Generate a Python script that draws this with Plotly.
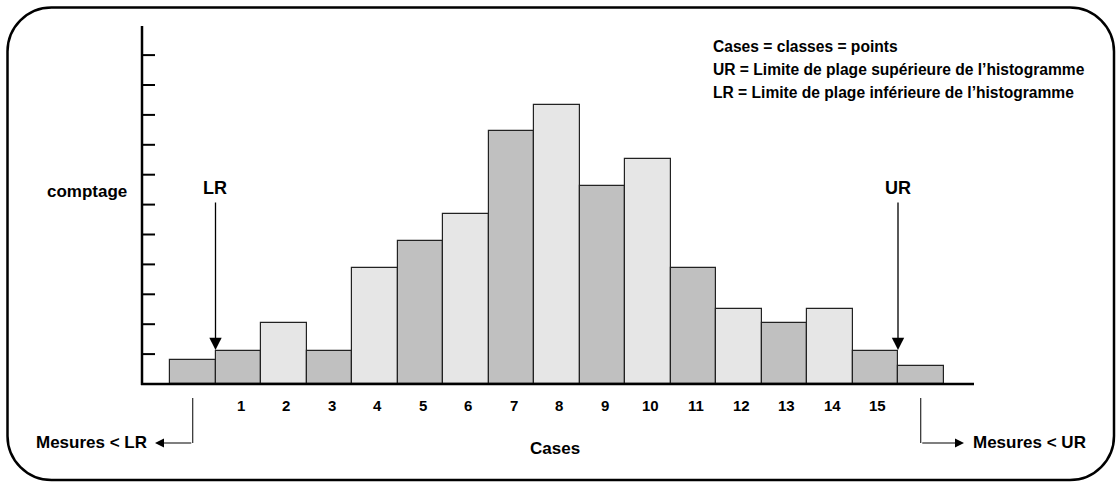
import plotly.graph_objects as go

# ---- data (counts in tick units) ----
bins = list(range(17))                      # 0 = below LR, 1..15 labelled, 16 = above UR
counts = [0.8, 1.12, 2.04, 1.12, 3.88, 4.78, 5.7, 8.45, 9.33, 6.61, 7.53, 3.87, 2.5, 2.04, 2.5, 1.12, 0.59]
shade = ["d", "d", "l", "d", "l", "d", "l", "d", "l", "d", "l", "d", "l", "d", "l", "d", "d"]
tick_labels = [str(i) for i in range(1, 16)]
legend_lines = ["Cases = classes = points",
                "UR = Limite de plage supérieure de l’histogramme",
                "LR = Limite de plage inférieure de l’histogramme"]

W, H = 1118, 483
X0, XS = 192.75, 45.5     # pixel of bin 0 centre, pixels per bin
Y0, YS = 384.0, 29.9      # pixel of baseline, pixels per count unit


def px(x):
    return (x - X0) / XS


def py(y):
    return (Y0 - y) / YS


FONT = "Liberation Sans, Arial, sans-serif"
colors = ["#C0C0C0" if s == "d" else "#E6E6E6" for s in shade]

fig = go.Figure()
fig.add_trace(go.Bar(x=bins, y=counts, width=1,
                     marker=dict(color=colors, line=dict(color="#222222", width=1.2)),
                     hoverinfo="skip"))

shapes = []
# y axis line
shapes.append(dict(type="line", xref="x", yref="y", x0=px(142), x1=px(142), y0=py(385), y1=py(26),
                   line=dict(color="black", width=2.5)))
# ticks
for k in range(1, 12):
    shapes.append(dict(type="line", xref="x", yref="y", x0=px(142), x1=px(155), y0=k, y1=k,
                       line=dict(color="black", width=2)))
# baseline
shapes.append(dict(type="line", xref="x", yref="y", x0=px(141), x1=px(974), y0=0, y1=0,
                   line=dict(color="black", width=2.5)))
# "Mesures" vertical connectors
shapes.append(dict(type="line", xref="x", yref="y", x0=0, x1=0, y0=py(398), y1=py(443),
                   line=dict(color="black", width=1)))
shapes.append(dict(type="line", xref="x", yref="y", x0=16, x1=16, y0=py(398), y1=py(443),
                   line=dict(color="black", width=1)))

# rounded border
L, R, T, B, r = 7.5, 1114, 7.5, 480, 44
k = 0.5523 * r


def P(x, y):
    return f"{px(x):.4f},{py(y):.4f}"


path = (f"M {P(L + r, T)} L {P(R - r, T)} C {P(R - r + k, T)} {P(R, T + r - k)} {P(R, T + r)} "
        f"L {P(R, B - r)} C {P(R, B - r + k)} {P(R - r + k, B)} {P(R - r, B)} "
        f"L {P(L + r, B)} C {P(L + r - k, B)} {P(L, B - r + k)} {P(L, B - r)} "
        f"L {P(L, T + r)} C {P(L, T + r - k)} {P(L + r - k, T)} {P(L + r, T)} Z")
shapes.append(dict(type="path", xref="x", yref="y", path=path, line=dict(color="black", width=2.5)))

ann = []


def text(x, y, s, size, xanchor="center"):
    ann.append(dict(x=x, y=y, xref="x", yref="y", text=f"<b>{s}</b>", showarrow=False,
                    xanchor=xanchor, yanchor="middle", font=dict(family=FONT, size=size, color="black")))


for i, lab in enumerate(tick_labels, start=1):
    text(i + 0.05, py(405), lab, 15)

text(px(87), py(191), "comptage", 17)
text(px(555), py(448), "Cases", 17)
text(px(215), py(188), "LR", 18)
text(px(898), py(188), "UR", 18)
text(px(148.5), py(442), "Mesures &lt; LR", 17, "right")
text(px(971), py(442), "Mesures &lt; UR", 17, "left")
for j, line in enumerate(legend_lines):
    text(px(711), py(46 + 23 * j), line, 15.6, "left")

# LR / UR arrows
for xb in (0.5, 15.5):
    ann.append(dict(x=xb, y=py(350), ax=xb, ay=py(201), xref="x", yref="y", axref="x", ayref="y",
                    text="", showarrow=True, arrowhead=2, arrowsize=1.9, arrowwidth=1.3, arrowcolor="black"))
# Mesures arrows
ann.append(dict(x=px(155), y=py(443), ax=0, ay=py(443), xref="x", yref="y", axref="x", ayref="y",
                text="", showarrow=True, arrowhead=2, arrowsize=1.5, arrowwidth=1.2, arrowcolor="black"))
ann.append(dict(x=px(964), y=py(443), ax=16, ay=py(443), xref="x", yref="y", axref="x", ayref="y",
                text="", showarrow=True, arrowhead=2, arrowsize=1.5, arrowwidth=1.2, arrowcolor="black"))

fig.update_layout(
    width=W, height=H, margin=dict(l=0, r=0, t=0, b=0),
    paper_bgcolor="white", plot_bgcolor="white", showlegend=False, bargap=0,
    xaxis=dict(range=[px(0), px(W)], visible=False, fixedrange=True),
    yaxis=dict(range=[py(H), py(0)], visible=False, fixedrange=True),
    shapes=shapes, annotations=ann,
)
fig.write_html("out.html", config={"displayModeBar": False},
               post_script="document.body.style.margin='0';document.body.style.overflow='hidden';")
